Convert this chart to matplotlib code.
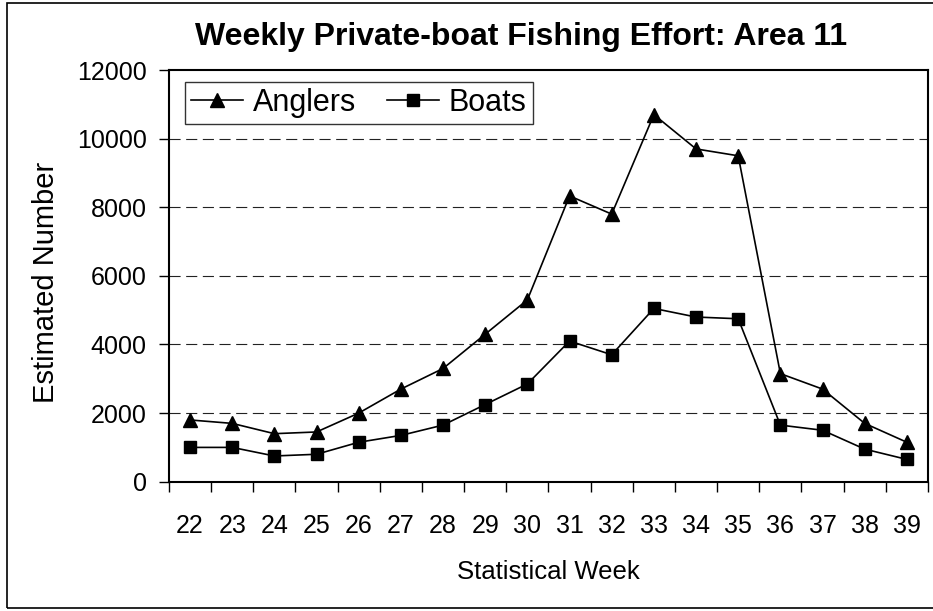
import matplotlib.pyplot as plt
import matplotlib.patches as patches

plt.rcParams['font.family'] = ['Liberation Sans', 'DejaVu Sans']

weeks = [22, 23, 24, 25, 26, 27, 28, 29, 30, 31, 32, 33, 34, 35, 36, 37, 38, 39]
anglers = [1800, 1700, 1400, 1450, 2000, 2700, 3300, 4300, 5300, 8330, 7800, 10700, 9700, 9500, 3150, 2700, 1700, 1150]
boats = [1000, 1000, 750, 800, 1150, 1350, 1650, 2250, 2850, 4100, 3700, 5050, 4800, 4750, 1650, 1500, 950, 650]

fig = plt.figure(figsize=(9.33, 6.11), dpi=100)
ax = fig.add_axes([0.1811, 0.2116, 0.8135, 0.6738])

# outer chart border (right side runs off the picture)
fig.patches.append(patches.Rectangle((7 / 933, 3 / 611), 940 / 933, 605 / 611,
                                     transform=fig.transFigure, fill=False,
                                     edgecolor='black', linewidth=1.2))

x = list(range(len(weeks)))
ax.plot(x, anglers, color='black', lw=1.2, marker='^', ms=10, label='Anglers')
ax.plot(x, boats, color='black', lw=1.2, marker='s', ms=8.5, label='Boats')

ax.set_xlim(-0.5, len(weeks) - 0.5)
ax.set_ylim(0, 12000)
ax.set_yticks(range(0, 12001, 2000))
for v in range(2000, 12000, 2000):
    ax.axhline(v, color='#222222', lw=0.8, ls=(0, (10, 5)), zorder=0)

# category ticks between weeks, labels centered
ax.set_xticks([i - 0.5 for i in range(len(weeks) + 1)])
ax.set_xticklabels([])
ax.set_xticks(x, minor=True)
ax.set_xticklabels([str(w) for w in weeks], minor=True, fontsize=18)
ax.tick_params(axis='x', which='major', direction='out', length=7, width=1, color='black')
ax.tick_params(axis='x', which='minor', length=0, pad=23)
ax.tick_params(axis='y', direction='out', length=7, width=1, labelsize=18, pad=9)

for s in ax.spines.values():
    s.set_linewidth(1.5)
    s.set_color('black')

ax.set_xlabel('Statistical Week', fontsize=18.5, labelpad=16)
ax.set_ylabel('Estimated Number', fontsize=21)
ax.yaxis.set_label_coords(-0.143, 0.485)

fig.text(0.559, 0.939, 'Weekly Private-boat Fishing Effort: Area 11',
         ha='center', va='center', fontsize=23, fontweight='bold')

leg = ax.legend(loc='upper left', bbox_to_anchor=(0.021, 0.972), ncol=2,
                fontsize=22, frameon=True, fancybox=False, edgecolor='black',
                borderpad=0.2, handlelength=1.7, handletextpad=0.33,
                columnspacing=1.0, borderaxespad=0)
leg.get_frame().set_linewidth(1.0)

fig.savefig('out.png', dpi=100)
